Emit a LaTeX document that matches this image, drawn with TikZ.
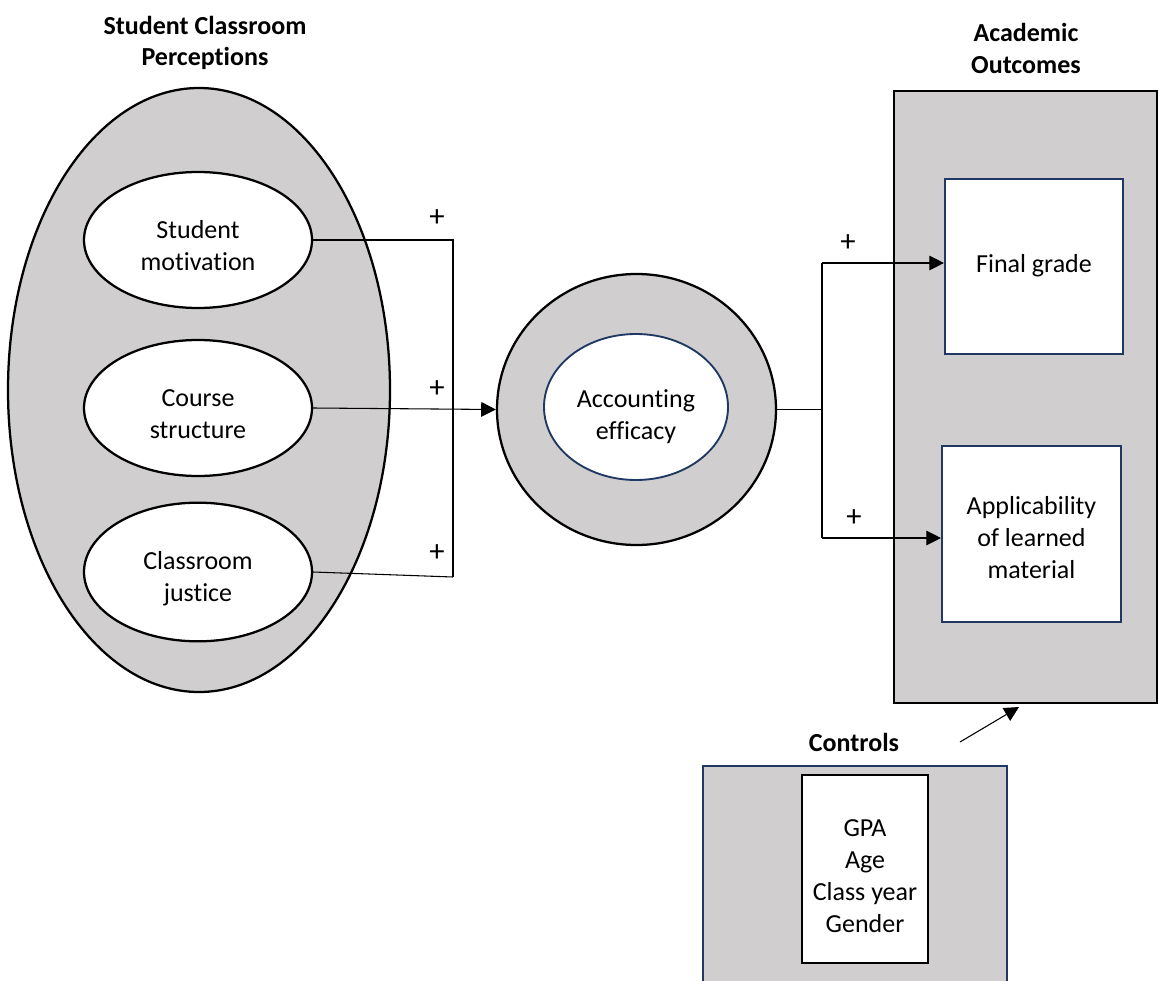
\documentclass[tikz,border=0pt]{standalone}
\usepackage{fontspec}
\setmainfont{Carlito}[Ligatures=NoCommon]
\usetikzlibrary{arrows.meta,shapes.geometric}
\definecolor{shade}{RGB}{208,206,206}
\definecolor{navy}{RGB}{31,56,100}
\begin{document}
\begin{tikzpicture}[x=0.75pt,y=-0.75pt,
  txt/.style={font=\fontsize{19.5}{24}\selectfont, align=center, inner sep=0pt, anchor=base},
  ttl/.style={font=\fontsize{19.5}{24}\selectfont\bfseries, align=center, inner sep=0pt, anchor=base},
  plus/.style={font=\fontsize{23}{24}\selectfont, inner sep=0pt},
  ell/.style={ellipse, draw=black, line width=1.7pt, inner sep=0pt},
  navybox/.style={rectangle, draw=navy, line width=1.6pt, fill=white, inner sep=0pt},
  conn/.style={draw=black, line width=0.8pt},
  arr/.style={conn, -{Triangle[length=11pt,width=11pt]}},
]
\useasboundingbox (0,0) rectangle (1158,981);

% titles (anchor base = last line baseline)
\node[ttl] (t1) at (205,66) {Student Classroom\\Perceptions};
\node[ttl] (t2) at (1026,74) {Academic\\Outcomes};
\node[ttl] (t3) at (854,751) {Controls};

% left group
\node[ell, fill=shade, minimum width=286.5pt, minimum height=453pt] (scp) at (199,390) {};
\node[ell, fill=white, minimum width=171pt, minimum height=102pt] (sm) at (198,240) {};
\node[ell, fill=white, minimum width=171pt, minimum height=102pt] (cs) at (198,408) {};
\node[ell, fill=white, minimum width=171pt, minimum height=104pt] (cj) at (198,572) {};
\node[txt] (smt) at (198,270) {Student\\motivation};
\node[txt] (cst) at (198,438) {Course\\structure};
\node[txt] (cjt) at (198,601) {Classroom\\justice};

% accounting efficacy
\node[ell, fill=shade, minimum width=209.25pt, minimum height=203.25pt] (ae) at (636.5,409.5) {};
\node[ellipse, draw=navy, line width=1.4pt, fill=white, inner sep=0pt, minimum width=138pt, minimum height=109.5pt] (aei) at (636,407) {};
\node[txt] (aet) at (636,439) {Accounting\\efficacy};

% academic outcomes
\node[rectangle, draw=black, line width=1.7pt, fill=shade, minimum width=197.25pt, minimum height=459pt] (ao) at (1025.5,397) {};
\node[navybox, minimum width=133.5pt, minimum height=131.25pt] (fg) at (1034,266.5) {};
\node[navybox, minimum width=134.25pt, minimum height=132pt] (ap) at (1031.5,534) {};
\node[txt] (fgt) at (1034,272) {Final grade};
\node[txt] (apt) at (1031.5,578) {Applicability\\of learned\\material};

% controls
\node[rectangle, draw=navy, line width=1.6pt, fill=shade, minimum width=228pt, minimum height=178.5pt] (ctl) at (855,885) {};
\node[rectangle, draw=black, line width=1.2pt, fill=white, minimum width=94.5pt, minimum height=141pt] (cti) at (865,869) {};
\node[txt] (ctt) at (865,932) {GPA\\Age\\Class year\\Gender};

% connectors left
\coordinate (j1) at (453,240);
\coordinate (j3) at (453,577);
\draw[conn] (sm.east) -- (j1) -- (j3);
\draw[conn] (cj.east) -- (j3);
\draw[arr] (cs.east) -- (ae.west);
\node[plus] (p1) at (437,218) {+};
\node[plus] (p2) at (437,389) {+};
\node[plus] (p3) at (437,553) {+};

% connectors right
\coordinate (r1) at (822,263);
\coordinate (r2) at (822,538);
\draw[conn] (ae.east) -- (ae.east -| r1);
\draw[conn] (r1) -- (r2);
\draw[arr] (r1) -- (r1 -| fg.west);
\draw[arr] (r2) -- (r2 -| ap.west);
\node[plus] (p4) at (848,243) {+};
\node[plus] (p5) at (854,518) {+};

% controls arrow
\coordinate (ca) at (960,742);
\coordinate (cb) at (1019,707);
\draw[arr] (ca) -- (cb);
\end{tikzpicture}
\end{document}
